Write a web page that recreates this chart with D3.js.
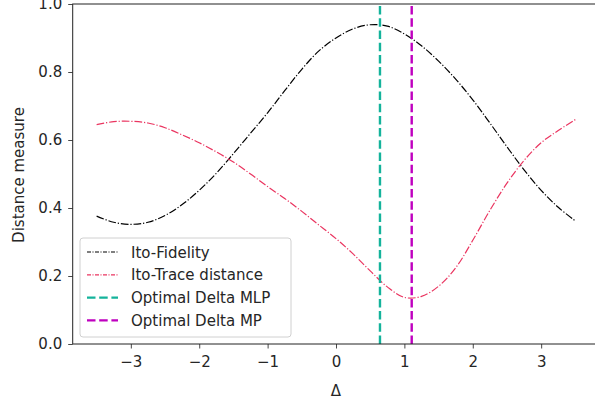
<!DOCTYPE html>
<html>
<head>
<meta charset="utf-8">
<script src="https://cdn.jsdelivr.net/npm/d3@7"></script>
<style>
body { margin: 0; background: #fff; }
text { font-family: "DejaVu Sans", sans-serif; fill: #262626; }
</style>
</head>
<body>
<svg id="svg"></svg>
<script>
var width = 595, height = 405;

// delta values and the two distance measures
var delta = [-3.5, -3.25, -3.0, -2.75, -2.5, -2.25, -2.0, -1.75, -1.5, -1.25, -1.0, -0.75, -0.5, -0.25,
	0.0, 0.25, 0.5, 0.75, 1.0, 1.25, 1.5, 1.75, 2.0, 2.25, 2.5, 2.75, 3.0, 3.25, 3.5];
var fidelity = [0.376, 0.358, 0.352, 0.358, 0.378, 0.41, 0.452, 0.502, 0.56, 0.62, 0.68, 0.745, 0.808, 0.862,
	0.90, 0.927, 0.939, 0.935, 0.912, 0.877, 0.832, 0.779, 0.718, 0.65, 0.58, 0.512, 0.452, 0.402, 0.362];
var trace = [0.645, 0.654, 0.655, 0.65, 0.636, 0.615, 0.592, 0.565, 0.535, 0.5, 0.463, 0.428, 0.39, 0.35,
	0.31, 0.265, 0.215, 0.168, 0.137, 0.14, 0.17, 0.224, 0.305, 0.393, 0.473, 0.54, 0.592, 0.628, 0.66];
var optimal = [
	{ name: "Optimal Delta MLP", value: 0.643, color: "#14b39b" },
	{ name: "Optimal Delta MP", value: 1.107, color: "#bf00bf" }
];
var xTicks = [-3, -2, -1, 0, 1, 2, 3];
var yTicks = [0.0, 0.2, 0.4, 0.6, 0.8, 1.0];

var svg = d3.select("#svg")
	.attr("width", width)
	.attr("height", height);

var x = d3.scaleLinear().domain([-3.85, 3.85]).range([72.7, 599.3]);
var y = d3.scaleLinear().domain([0, 1]).range([344, 4]);

var fidData = delta.map(function(d, i) { return [d, fidelity[i]]; });
var trData = delta.map(function(d, i) { return [d, trace[i]]; });

var line = d3.line()
	.x(function(d) { return x(d[0]); })
	.y(function(d) { return y(d[1]); })
	.curve(d3.curveCatmullRom);

svg.append("path")
	.datum(fidData)
	.attr("d", line)
	.attr("fill", "none")
	.attr("stroke", "#000")
	.attr("stroke-width", 1.2)
	.attr("stroke-dasharray", "7.7,1.9,1.2,1.9");

svg.append("path")
	.datum(trData)
	.attr("d", line)
	.attr("fill", "none")
	.attr("stroke", "#ea3560")
	.attr("stroke-width", 1.2)
	.attr("stroke-dasharray", "7.7,1.9,1.2,1.9");

svg.selectAll("line.opt")
	.data(optimal)
	.enter()
	.append("line")
	.attr("class", "opt")
	.attr("x1", function(d) { return x(d.value); })
	.attr("x2", function(d) { return x(d.value); })
	.attr("y1", y(0))
	.attr("y2", y(1))
	.attr("stroke", function(d) { return d.color; })
	.attr("stroke-width", 2.4)
	.attr("stroke-dasharray", "8.5,3.7");

var xAxis = d3.axisBottom(x)
	.tickValues(xTicks)
	.tickSize(4.5)
	.tickPadding(8)
	.tickFormat(function(d) { return d < 0 ? "\u2212" + Math.abs(d) : d; });
var yAxis = d3.axisLeft(y)
	.tickValues(yTicks)
	.tickSize(4.5)
	.tickPadding(6)
	.tickFormat(d3.format(".1f"));

var gx = svg.append("g")
	.attr("transform", "translate(0," + y(0) + ")")
	.call(xAxis);
var gy = svg.append("g")
	.attr("transform", "translate(" + x.range()[0] + ",0)")
	.call(yAxis);
[gx, gy].forEach(function(g) {
	g.select(".domain").remove();
	g.selectAll("line").attr("stroke", "#333").attr("stroke-width", 0.9);
	g.selectAll("text").style("font-size", "15px").style("fill", "#262626");
});

// frame
svg.append("rect")
	.attr("x", x.range()[0])
	.attr("y", y(1))
	.attr("width", x.range()[1] - x.range()[0])
	.attr("height", y(0) - y(1))
	.attr("fill", "none")
	.attr("stroke", "#222")
	.attr("stroke-width", 1);

svg.append("text")
	.attr("x", 336)
	.attr("y", 396)
	.style("text-anchor", "middle")
	.style("font-size", "15px")
	.text("\u0394");
svg.append("text")
	.attr("transform", "translate(24,175) rotate(-90)")
	.style("text-anchor", "middle")
	.style("font-size", "15px")
	.text("Distance measure");

// legend
var legendItems = [
	{ name: "Ito-Fidelity", color: "#000", dash: "4,1.5,1,1.5", width: 1.2 },
	{ name: "Ito-Trace distance", color: "#ea3560", dash: "4,1.5,1,1.5", width: 1.2 },
	{ name: optimal[0].name, color: optimal[0].color, dash: "8.5,3.7", width: 2.4 },
	{ name: optimal[1].name, color: optimal[1].color, dash: "8.5,3.7", width: 2.4 }
];
var legend = svg.append("g").attr("transform", "translate(80,238)");
legend.append("rect")
	.attr("width", 211)
	.attr("height", 99)
	.attr("rx", 3)
	.attr("fill", "#fff")
	.attr("fill-opacity", 0.8)
	.attr("stroke", "#d0d0d0");
var item = legend.selectAll("g.item")
	.data(legendItems)
	.enter()
	.append("g")
	.attr("class", "item")
	.attr("transform", function(d, i) { return "translate(0," + (14 + i * 22.8) + ")"; });
item.append("line")
	.attr("x1", 7)
	.attr("x2", 38)
	.attr("stroke", function(d) { return d.color; })
	.attr("stroke-width", function(d) { return d.width; })
	.attr("stroke-dasharray", function(d) { return d.dash; });
item.append("text")
	.attr("x", 51)
	.attr("y", 5.5)
	.style("font-size", "15px")
	.text(function(d) { return d.name; });
</script>
</body>
</html>
